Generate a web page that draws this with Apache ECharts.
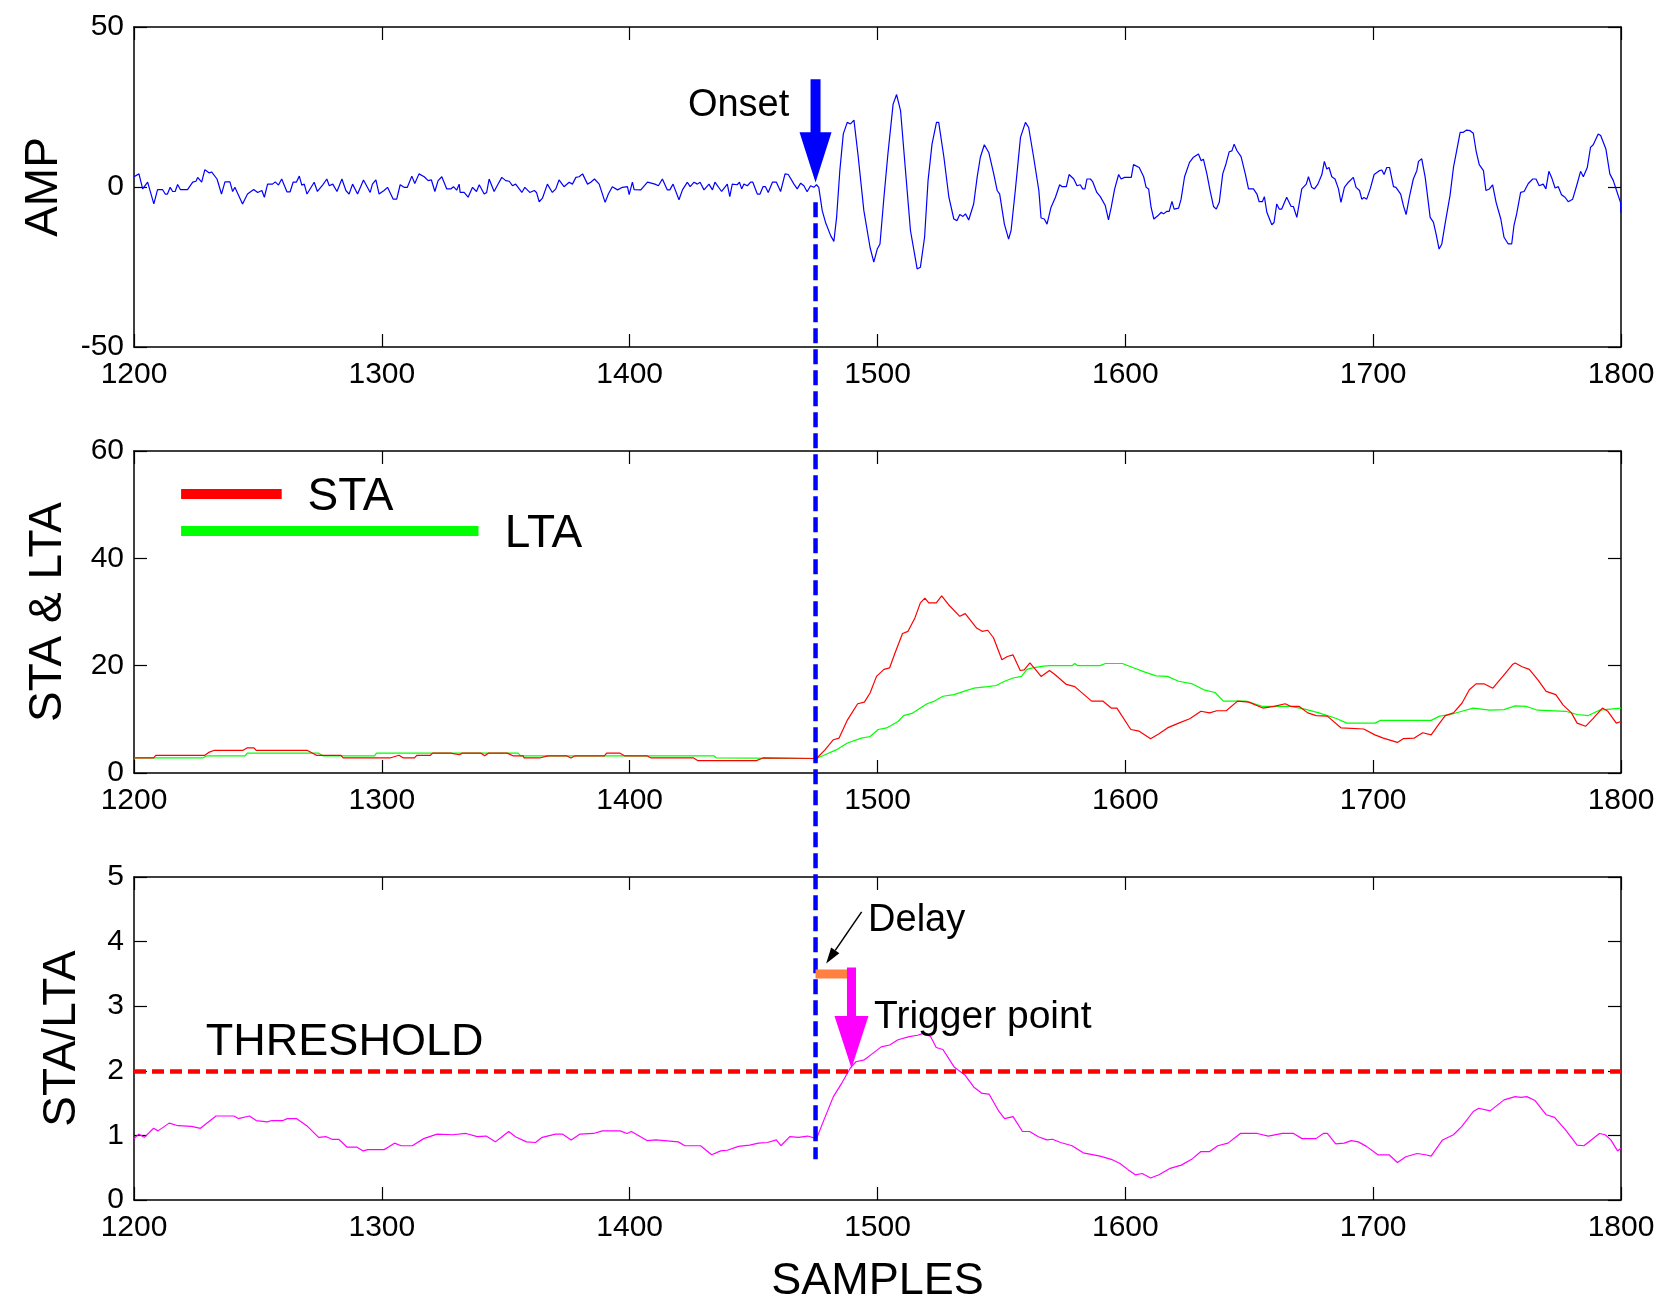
<!DOCTYPE html>
<html>
<head>
<meta charset="utf-8">
<script src="https://cdn.jsdelivr.net/npm/echarts@6/dist/echarts.min.js"></script>
<style>
html,body{margin:0;padding:0;background:#fff;}
#chart{width:1660px;height:1297px;}
</style>
</head>
<body>
<div id="chart"></div>
<script>
// ---------- DATA ----------
const xTicks = {min: 1200, max: 1800, interval: 100};
const ampTicks = {min: -50, max: 50, interval: 50};
const avgTicks = {min: 0, max: 60, interval: 20};
const ratioTicks = {min: 0, max: 5, interval: 1};

const onsetSample = 1475;
const triggerSample = 1489.5;
const thresholdValue = 2;
const delayLevel = 3.5;

const ampSamples = [1200,1202,1203.5,1205.5,1208,1209.5,1211.5,1212.6,1213.5,1214.6,1215.6,1216.6,1217.6,1218.7,1221.6,1223.7,1225,1225.7,1227.3,1228.6,1230.4,1231.3,1233.5,1235.3,1236.7,1238.7,1239.8,1240.7,1243.8,1245.8,1248.3,1249.9,1251.6,1252.6,1253.9,1255.9,1257,1258.3,1259.6,1261.7,1263,1264.2,1265.5,1266.7,1267.7,1268.7,1269.8,1272.7,1274,1276.1,1277.8,1278.8,1280.2,1281.9,1283.9,1285.5,1286.8,1288.2,1288.8,1290.2,1292.6,1293.4,1295.3,1296.2,1297.6,1298.9,1300.9,1302.3,1304.6,1306,1307.4,1309,1310.3,1312.1,1313.3,1315,1317.1,1318.7,1320,1321.4,1322.7,1324.2,1326.2,1327.8,1328.9,1330.2,1331.2,1331.6,1333.2,1334.8,1336.6,1338.2,1339.3,1341.3,1342.3,1343.3,1345.3,1346.7,1347.3,1348.4,1350,1351.4,1352.7,1354,1356.5,1357.7,1359.7,1361.5,1362.4,1363.5,1364.8,1366.8,1368.8,1370.2,1371.5,1373.5,1375.6,1376.9,1378.3,1379.6,1381,1383,1384.3,1385.8,1387.7,1390.1,1391.4,1393,1395.1,1397.1,1399.1,1399.8,1401.1,1401.8,1404.5,1407.2,1410.2,1411.6,1413.2,1415.2,1416.2,1417.5,1418.3,1419.9,1421.3,1423.3,1424.4,1426,1427.3,1428.4,1430,1432,1433.4,1434.4,1437.1,1439.4,1440.4,1441.4,1443.4,1444.3,1445.2,1446.1,1447.5,1448.8,1449.7,1451.5,1452.6,1453.8,1454.8,1455.9,1457.6,1459.2,1460.9,1462.7,1464,1466.3,1467.6,1469,1470.3,1471.6,1473,1474.3,1475.4,1476.3,1477.7,1479,1481.1,1482.4,1483.5,1484.8,1486.2,1487.8,1489.1,1490.5,1492.1,1494.5,1497,1498.5,1499.9,1501,1502.6,1504.2,1506.3,1507.7,1509.3,1511.3,1513.3,1516,1517.3,1519,1520.4,1522,1523.8,1524.7,1526.8,1528.8,1530.8,1532.1,1533.2,1534.5,1535.5,1536.8,1538.8,1540.2,1541.5,1543.1,1544.9,1546.9,1548.3,1549.3,1551.2,1552.9,1553.9,1555.6,1557.7,1559.7,1561,1563,1565.1,1566,1567.3,1568.4,1570,1571.8,1573.5,1574.5,1576.2,1577.3,1579.2,1580.5,1581.8,1582.8,1583.7,1584.5,1585.9,1586.8,1587.6,1588.5,1589.9,1591.9,1593.2,1594.3,1595.7,1597.3,1598.3,1599.7,1602.4,1603.3,1604,1605.6,1607.4,1608.4,1609.4,1610.4,1611.5,1613.1,1614.5,1615.4,1616.8,1617.7,1618.8,1619.7,1621.5,1622.5,1623.9,1624.6,1625.9,1627.5,1629.5,1630.6,1631.5,1632.9,1634.2,1635.6,1636.7,1637.9,1639.3,1640.6,1641.9,1643,1643.9,1645,1646.7,1648.4,1649.7,1651.7,1653.1,1654,1655.3,1656.1,1657.1,1659.1,1660,1661.1,1662.1,1663.1,1665.1,1665.8,1666.9,1667.8,1669.2,1671.2,1673,1673.9,1675.2,1676.3,1677.7,1679.3,1680.3,1681.3,1682.2,1683.3,1684.6,1686,1687,1688.4,1690,1692,1693.1,1694.5,1695.4,1696.3,1697.4,1698.8,1700.4,1701.2,1702.5,1703.5,1704.4,1705.5,1706.6,1708.2,1709.2,1711.1,1712.2,1713.3,1714.6,1716.2,1717.6,1718.3,1719.6,1721,1723,1724.3,1725.4,1726.6,1727.7,1729,1731,1732.4,1733.7,1735.1,1736.4,1737.7,1739.1,1740.4,1741.5,1742.8,1744.5,1745.5,1746.9,1748.2,1749.6,1751.5,1752.8,1754.5,1755.9,1756.8,1757.9,1759.5,1760.9,1762.6,1764.4,1765.7,1767,1768.6,1769.7,1770.9,1772,1773.4,1774.7,1776,1777.4,1778.7,1780.5,1782.1,1783.7,1784.8,1786.4,1787.7,1788.8,1790.8,1791.8,1793.9,1795.5,1796.9,1798.2,1799.8,1800];
const ampValues = [3.2,4.1,-0.6,1.5,-5.3,-0.8,-0.8,-2.2,-2.2,-0.1,-1.4,-1.4,0.8,-0.8,-0.8,1.5,1.8,3.0,1.5,5.4,4.4,4.7,2.5,-2.2,1.6,1.6,-1.4,-0.1,-5.3,-2.2,-0.8,-1.7,-1.1,-3.2,0.9,0.9,1.6,0.6,2.5,-1.5,-1.5,1.5,1.5,3.4,0.6,0.9,-2.2,1.5,-1.4,0.6,2.5,0.4,0.9,-1.4,2.5,-1.1,-2.2,0.9,0.9,-2.2,2.2,2.5,-1.7,0.9,2.2,-2.2,-1.1,-0.1,-3.8,-3.8,0.7,-0.1,-0.1,3.4,1.1,4.1,3.2,2.0,2.2,-1.4,2.0,3.2,-0.6,-0.6,0.1,-1.0,0.9,-1.7,-1.7,-3.2,-0.1,-1.4,0.7,-2.2,-1.7,2.5,-1.4,0.6,0.1,3.0,2.0,1.8,0.4,0.9,-1.7,-0.1,-1.7,-1.1,-1.7,-4.6,-3.5,0.9,-1.7,-0.6,2.2,0.1,1.5,0.9,3.0,3.2,4.1,0.9,1.5,2.5,0.9,-4.8,-2.2,0.1,-0.9,-0.1,0.1,-2.4,1.5,-0.8,-0.9,1.5,0.9,0.4,2.5,-0.9,-0.9,0.9,0.9,-4.0,-0.9,1.5,0.1,1.5,0.9,1.5,-0.9,0.9,-0.9,1.5,-1.4,0.9,-3.0,0.9,0.7,1.5,-0.6,0.9,0.4,1.5,1.5,-2.2,-2.2,0.1,0.1,-1.7,1.5,1.5,-1.4,4.1,3.9,0.9,-0.6,1.2,0.4,-1.5,0.4,-0.1,0.7,-0.1,-7.4,-11,-15.2,-17,-9.5,5.1,16.6,20.2,19.7,20.9,10.3,-7.4,-18.9,-23.5,-19.4,-17.8,-3.2,10.3,25.9,28.9,23.9,5.1,-13.6,-25.6,-25.1,-15.7,2.0,13.4,20.2,20.2,9.3,-3.2,-10,-10.5,-8.6,-9.2,-8.4,-10.3,-5.3,3.0,9.3,13.2,10.8,4.1,-1.1,-2.2,-11.6,-16.3,-13.6,-1.1,15.5,20.2,18.6,9.3,-1.1,-9.7,-10,-11.6,-6.4,-3.2,0.7,0.1,0.1,3.9,2.5,0.4,0.7,-0.6,-0.6,2.5,2.5,1.7,1.7,-1.7,-3.0,-5.8,-10.3,-6.4,-0.6,3.9,2.5,3.0,3.0,7.0,6.4,6.1,3.2,-0.1,-0.6,-6.4,-10,-9.0,-7.9,-8.4,-7.6,-7.6,-4.5,-6.9,-6.6,-3.8,3.2,3.8,7.7,9.3,10.3,8.2,8.7,4.1,-1.1,-6.1,-6.9,-4.8,4.1,7.2,11.0,11.3,13.4,11.4,9.5,4.1,-0.6,-0.6,-2.2,-4.6,-4.6,-3.0,-7.9,-11.8,-11.1,-5.3,-6.9,-6.9,-3.2,-3.7,-6.1,-6.1,-9.5,-0.6,0.9,3.2,-0.1,-0.6,0.9,3.9,8.0,5.6,6.1,3.2,2.5,-0.6,-4.8,-0.1,1.5,3.0,-0.1,-1.1,-3.8,-3.3,-3.8,-0.6,3.9,3.3,5.1,5.3,3.9,6.1,6.1,0.1,-0.1,-2.2,-5.8,-8.6,-3.2,2.5,5.1,8.0,8.8,3.0,-9.5,-11,-14.7,-19.4,-17.8,-11.6,-2.7,6.1,11.4,17.1,17.1,17.8,17.6,16.8,11.4,7.0,5.1,-1.1,-0.6,0.7,-4.8,-10,-15.7,-17.8,-17.8,-12.1,-8.4,-1.7,-1.4,1.1,2.5,2.5,0.4,0.9,-0.6,4.9,3.0,-0.3,0.1,-2.4,-3.2,-4.6,-3.8,0.4,4.9,3.2,6.1,12.4,13.2,16.6,16.1,11.9,4.1,2.0,-1.1,-4.8,-8];

const staSamples = [1200,1207.9,1208.8,1228.6,1230.4,1232.2,1243.9,1245.7,1248.4,1249.3,1270,1273.6,1283.5,1284.4,1303.3,1306.9,1308.7,1313.2,1314.1,1319.6,1320.5,1327.7,1331.3,1332.5,1340,1341.5,1343,1350.6,1352.9,1357,1357.4,1363.7,1367,1374.5,1376.3,1378.1,1389.8,1390.7,1396.1,1397.9,1406.9,1408.7,1425.8,1427.6,1451.1,1453.8,1475.4,1478.8,1482.2,1484.5,1487.9,1492,1494.7,1497,1499.6,1502.6,1504.9,1507.1,1510.1,1512.3,1515.1,1517.3,1519.1,1520.7,1523.7,1525.9,1528.6,1533.2,1535.4,1540,1542.2,1544.5,1546.8,1550.2,1552.4,1554.7,1557.6,1559.2,1561.5,1563.7,1566,1569.4,1571.7,1576.2,1579.6,1586.4,1590.9,1594.3,1596.6,1602.2,1605.6,1610.2,1613.6,1617,1621.5,1626,1630.5,1634,1636.9,1640.7,1645.3,1649.8,1655.5,1660,1664.5,1666.8,1670.2,1673.6,1677,1681.5,1687.1,1696.2,1700.7,1704.1,1709.8,1712.1,1716.6,1720,1723.4,1726.8,1729.1,1732.4,1735.8,1738.8,1741.5,1744.9,1748.3,1752.8,1756.2,1757.3,1760.1,1763,1766.4,1769.8,1773.7,1776.6,1780,1782.3,1785.7,1788.6,1792.5,1794.7,1798.1,1800];
const staValues = [2.8,2.8,3.3,3.3,3.9,4.2,4.2,4.7,4.7,4.2,4.2,3.3,3.3,2.8,2.8,3.3,2.8,2.8,3.3,3.3,3.7,3.7,3.4,3.7,3.7,3.2,3.7,3.7,3.2,3.2,2.8,2.8,3.2,3.2,2.8,3.2,3.2,3.7,3.7,3.2,3.2,2.8,2.8,2.3,2.3,2.8,2.7,4.3,6.2,6.5,9.9,12.9,13.2,14.9,18.0,19.3,19.6,22.4,26.0,26.4,28.9,31.7,32.6,31.7,31.7,33.0,31.4,29.2,29.7,27.0,26.4,26.6,25.2,21.1,21.7,22.0,19.1,19.2,20.5,19.3,18.0,19.1,18.3,16.5,16.1,13.4,13.4,12.1,12.1,8.1,7.8,6.4,7.3,8.4,9.3,10.1,11.5,11.2,11.6,11.6,13.4,13.2,12.1,12.4,12.9,12.4,12.4,11.2,10.7,10.6,8.4,8.2,7.1,6.5,5.7,6.4,6.5,7.5,7.1,9.3,10.7,11.2,13.0,15.5,16.6,16.6,15.8,18.3,20.2,20.5,19.8,19.3,17.4,15.2,14.6,12.7,11.2,9.3,8.7,10.1,12.1,11.5,9.3,9.6];

const ltaSamples = [1200,1227.7,1229.5,1244.8,1245.7,1274.5,1276.3,1297,1297.9,1355,1356,1434,1435,1475.4,1478.8,1483.3,1487.9,1493.5,1497,1500.3,1503.7,1508.3,1510.5,1513.9,1517.3,1520,1523,1526.4,1530.9,1535.4,1538.8,1544.5,1547.9,1551.3,1554.7,1558.1,1560.3,1562.6,1567.1,1569.4,1578.5,1579.6,1580.8,1589.8,1592,1598.8,1602.2,1607.9,1612.4,1617,1621.5,1627.1,1631.7,1636.2,1639.6,1648.7,1655.5,1666.8,1672.4,1678.1,1684.9,1689.4,1700.7,1703,1723.4,1726.8,1731.2,1735.8,1740.4,1747.1,1752.8,1757.3,1761.9,1766.4,1777.7,1782.3,1786.8,1791.3,1800];
const ltaValues = [2.8,2.8,3.2,3.2,3.7,3.7,3.2,3.2,3.7,3.7,3.2,3.2,2.8,2.7,3.4,4.3,5.6,6.5,6.8,8.1,8.4,9.6,10.7,11.1,12.1,12.9,13.4,14.3,14.6,15.3,15.8,16.1,16.3,17.1,17.7,18.0,19.3,19.6,19.9,20.0,20.0,20.4,20.0,20.0,20.4,20.4,19.8,18.8,18.1,18.0,17.1,16.6,15.5,15.0,13.4,13.4,12.4,12.4,11.9,11.2,10.2,9.3,9.3,9.8,9.8,10.6,10.9,11.5,12.1,11.7,11.8,12.5,12.4,11.7,11.5,10.9,10.7,11.7,12.1];

const ratioSamples = [1200,1201.9,1204.2,1207.9,1209.7,1214.2,1217.8,1223.2,1226.8,1233.1,1240.3,1242.1,1246.6,1249.3,1253.8,1255.6,1260.1,1261.9,1265.5,1270,1274.5,1277.6,1279.9,1282.6,1285.9,1289.8,1292.5,1294.3,1300.9,1302.7,1305.1,1307.8,1312.3,1316.9,1322.3,1328.6,1334,1338.5,1342.1,1345.8,1348.5,1351.2,1353.9,1358.4,1362,1364.7,1370.1,1372.8,1376.4,1380,1385.4,1389,1396.2,1398.9,1400.7,1407,1410.6,1419.6,1422.3,1428.6,1433.1,1436.7,1439.4,1443.9,1448.4,1452,1455.6,1459.2,1461,1464.6,1468.2,1471.8,1475.4,1478.4,1482.2,1485.6,1489,1491.3,1494.7,1498.1,1501.5,1504.9,1508.3,1512.8,1516.2,1518.4,1521.4,1523.7,1526.4,1530.9,1535.4,1538.8,1542.2,1545,1549,1551.3,1554.7,1558.5,1561.4,1564.9,1568.3,1570.6,1573.9,1578.5,1583,1589.8,1594.3,1597.7,1601.1,1604,1606.8,1610.2,1613.6,1618.1,1622.6,1627.1,1630.5,1634,1637.3,1641.4,1646.4,1653.2,1657.7,1663.4,1667.9,1671.3,1676.9,1679.9,1681.5,1684.9,1688.3,1691.2,1694,1697.3,1701.9,1706.4,1709.8,1713.2,1717.7,1721.1,1723.4,1728,1732.4,1735.8,1740.4,1742.6,1747.2,1752.8,1757.3,1759.6,1762,1765.3,1769.8,1773.2,1777.7,1782.3,1785,1788,1791.3,1793.6,1795.9,1798.6,1800];
const ratioValues = [0.95,1.02,0.97,1.11,1.07,1.19,1.15,1.14,1.11,1.30,1.30,1.26,1.30,1.23,1.21,1.23,1.23,1.26,1.26,1.14,0.97,0.98,0.94,0.94,0.82,0.82,0.76,0.78,0.78,0.82,0.88,0.84,0.84,0.95,1.02,1.01,1.03,0.98,0.99,0.90,0.98,1.06,0.98,0.90,0.89,0.97,1.02,1.02,0.93,1.02,1.03,1.07,1.07,1.03,1.06,0.92,0.93,0.90,0.84,0.84,0.70,0.76,0.77,0.83,0.85,0.88,0.89,0.93,0.84,0.98,0.97,0.99,0.95,1.24,1.60,1.81,2.04,2.14,2.17,2.27,2.37,2.40,2.48,2.53,2.55,2.58,2.53,2.36,2.33,2.06,1.93,1.75,1.65,1.64,1.37,1.26,1.29,1.06,1.06,0.98,0.93,0.94,0.89,0.84,0.73,0.68,0.63,0.57,0.47,0.39,0.41,0.34,0.39,0.49,0.54,0.64,0.75,0.75,0.84,0.88,1.03,1.03,0.99,1.03,1.03,0.95,0.95,1.03,1.03,0.87,0.88,0.92,0.90,0.83,0.70,0.70,0.58,0.67,0.72,0.70,0.68,0.93,1.01,1.14,1.37,1.42,1.38,1.55,1.60,1.59,1.60,1.54,1.32,1.28,1.08,0.85,0.84,0.93,1.03,1.01,0.93,0.76,0.80];

const yNames = ['AMP', 'STA & LTA', 'STA/LTA'];
const xName = 'SAMPLES';

// ---------- CHART ----------
const FONT = '"Liberation Sans", Arial, sans-serif';
const chart = echarts.init(document.getElementById('chart'), null, {renderer: 'canvas'});
const pair = (xs, ys) => xs.map((x, i) => [x, ys[i]]);

const gridTops = [27, 451, 877];
const gridHeights = [320, 322, 323];
const yTicks = [ampTicks, avgTicks, ratioTicks];
const yNameGaps = [67, 63, 49];

const axisLine = {show: true, onZero: false, lineStyle: {color: '#000', width: 1.5}};
const tick = {show: true, inside: true, length: 13, lineStyle: {color: '#000', width: 1.2}};
const plain = v => String(v);

const xAxes = [], yAxes = [];
for (let i = 0; i < 3; i++) {
  xAxes.push({
    type: 'value', gridIndex: i, position: 'bottom', ...xTicks,
    axisLine, axisTick: tick, splitLine: {show: false},
    axisLabel: {show: true, color: '#000', fontSize: 30, fontFamily: FONT, margin: 13, showMinLabel: true, showMaxLabel: true, formatter: plain},
    name: i === 2 ? xName : '', nameLocation: 'middle', nameGap: 59,
    nameTextStyle: {color: '#000', fontSize: 45, fontFamily: FONT}
  });
  yAxes.push({
    type: 'value', gridIndex: i, position: 'left', ...yTicks[i],
    axisLine, axisTick: tick, splitLine: {show: false},
    axisLabel: {show: true, color: '#000', fontSize: 30, fontFamily: FONT, margin: 10, showMinLabel: true, showMaxLabel: true, formatter: plain},
    name: yNames[i], nameLocation: 'middle', nameGap: yNameGaps[i],
    nameTextStyle: {color: '#000', fontSize: 46, fontFamily: FONT}
  });
}
for (let i = 0; i < 3; i++) {
  xAxes.push({
    type: 'value', gridIndex: i, position: 'top', ...xTicks,
    axisLine, axisTick: tick, splitLine: {show: false}, axisLabel: {show: false}
  });
  yAxes.push({
    type: 'value', gridIndex: i, position: 'right', ...yTicks[i],
    axisLine, axisTick: tick, splitLine: {show: false}, axisLabel: {show: false}
  });
}

const lineSeries = (name, idx, xs, ys, color, extra) => Object.assign({
  name, type: 'line', xAxisIndex: idx, yAxisIndex: idx,
  data: pair(xs, ys), showSymbol: false, symbol: 'none',
  lineStyle: {color, width: 1.2}, itemStyle: {color}, z: 3, silent: true
}, extra || {});

const option = {
  backgroundColor: '#fff',
  animation: false,
  textStyle: {fontFamily: FONT},
  grid: gridTops.map((t, i) => ({left: 134, right: 39, top: t, height: gridHeights[i], containLabel: false, outerBoundsMode: 'none'})),
  xAxis: xAxes,
  yAxis: yAxes,
  series: [
    lineSeries('AMP', 0, ampSamples, ampValues, '#0000ff'),
    lineSeries('LTA', 1, ltaSamples, ltaValues, '#00ff00'),
    lineSeries('STA', 1, staSamples, staValues, '#ff0000'),
    lineSeries('STA/LTA', 2, ratioSamples, ratioValues, '#ff00ff', {
      markLine: {
        silent: true, symbol: ['none', 'none'], label: {show: false},
        lineStyle: {color: '#ff0000', width: 4.5, type: [12, 6]},
        data: [{yAxis: thresholdValue}]
      }
    })
  ]
};
chart.setOption(option);

// ---------- ANNOTATIONS (positioned through the axes' scales) ----------
const P = (i, x, y) => chart.convertToPixel({xAxisIndex: i, yAxisIndex: i}, [x, y]);

function downArrow(i, x, yTop, yHeadBase, yTip, shaftW, headW, color) {
  const t = P(i, x, yTop), b = P(i, x, yHeadBase), tip = P(i, x, yTip);
  const cx = tip[0];
  return {
    type: 'polygon', z: 100, silent: true,
    shape: {points: [
      [cx - shaftW / 2, t[1]], [cx + shaftW / 2, t[1]], [cx + shaftW / 2, b[1]],
      [cx + headW / 2, b[1]], [cx, tip[1]], [cx - headW / 2, b[1]], [cx - shaftW / 2, b[1]]
    ]},
    style: {fill: color}
  };
}
function text(i, x, y, str, size, align) {
  const p = P(i, x, y);
  return {
    type: 'text', z: 100, silent: true,
    style: {
      x: p[0], y: p[1] + 3, text: str, font: size + 'px ' + FONT, fill: '#000',
      align: align || 'left', verticalAlign: 'middle',
      textAlign: align || 'left', textVerticalAlign: 'middle'
    }
  };
}
function seg(i, x1, y1, x2, y2, color, width, dash, j) {
  const a = P(i, x1, y1), b = P(j === undefined ? i : j, x2, y2);
  return {
    type: 'line', z: 90, silent: true,
    shape: {x1: a[0], y1: a[1], x2: b[0], y2: b[1]},
    style: {stroke: color, lineWidth: width, lineDash: dash || null}
  };
}

const elements = [];
// onset dashed line crossing all three panels
elements.push(seg(0, onsetSample, -4.8, onsetSample, 0.63, '#0000ff', 4.5, [15, 6], 2));
// onset arrow
elements.push(downArrow(0, onsetSample, 33.7, 17.1, 1.4, 10, 32, '#0000ff'));
elements.push(text(0, 1464.4, 26.5, 'Onset', 38, 'right'));
// legend of panel 2
elements.push(seg(1, 1219, 52, 1259.6, 52, '#ff0000', 10));
elements.push(seg(1, 1219, 45.1, 1339, 45.1, '#00ff00', 10));
elements.push(text(1, 1270, 52, 'STA', 46));
elements.push(text(1, 1349.6, 45.1, 'LTA', 46));
// delay bar
elements.push(seg(2, onsetSample, delayLevel, triggerSample, delayLevel, '#ff8040', 9));
// trigger arrow
elements.push(downArrow(2, triggerSample, 3.6, 2.85, 2.04, 9, 34, '#ff00ff'));
// delay pointer
(function () {
  const a = P(2, 1493.6, 4.46), b = P(2, 1479.3, 3.66);
  const dx = b[0] - a[0], dy = b[1] - a[1], L = Math.hypot(dx, dy);
  const ux = dx / L, uy = dy / L, hl = 16, hw = 5;
  const bx = b[0] - ux * hl, by = b[1] - uy * hl;
  elements.push({type: 'line', z: 100, silent: true,
    shape: {x1: a[0], y1: a[1], x2: bx, y2: by}, style: {stroke: '#000', lineWidth: 1.5}});
  elements.push({type: 'polygon', z: 100, silent: true,
    shape: {points: [[b[0], b[1]], [bx - uy * hw, by + ux * hw], [bx + uy * hw, by - ux * hw]]},
    style: {fill: '#000'}});
})();
elements.push(text(2, 1496.2, 4.38, 'Delay', 38));
elements.push(text(2, 1498.6, 2.88, 'Trigger point', 39));
elements.push(text(2, 1229, 2.48, 'THRESHOLD', 45));

chart.setOption({graphic: {elements}});
</script>
</body>
</html>
